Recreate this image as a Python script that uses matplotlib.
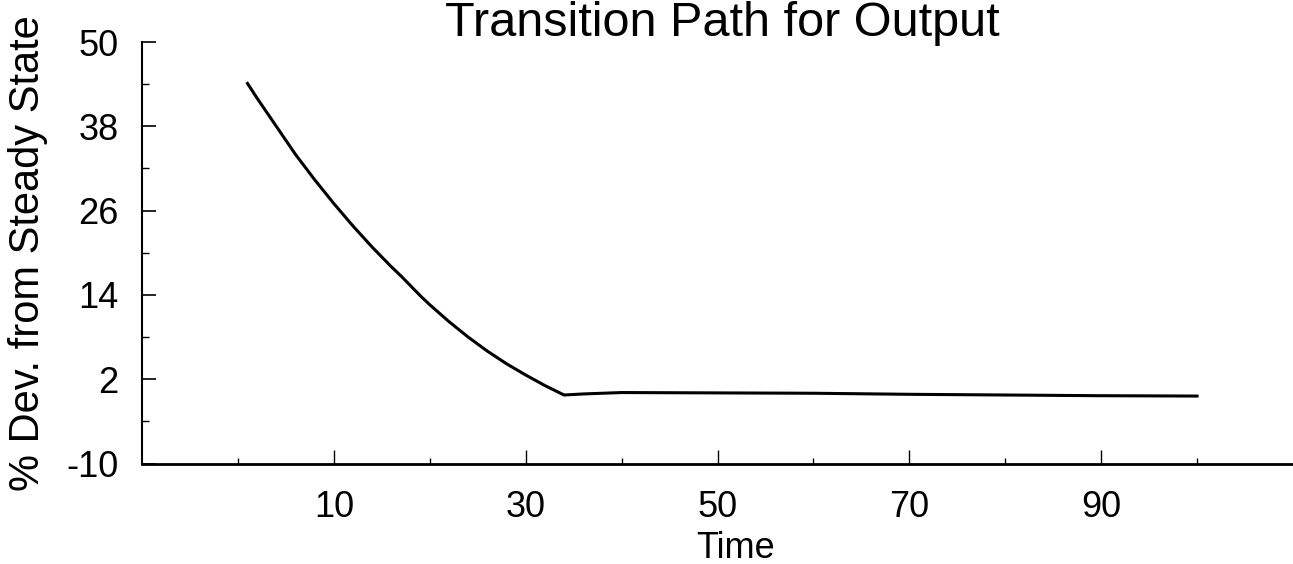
import matplotlib
matplotlib.use('Agg')
import matplotlib.pyplot as plt

plt.rcParams['font.family'] = ['Liberation Sans', 'DejaVu Sans']
plt.rcParams['axes.unicode_minus'] = False

# Transition path
time = [1, 2, 3, 4, 5, 6, 7, 8, 9, 10, 11, 12, 13, 14, 15, 16, 17, 18, 19, 20,
        22, 24, 26, 28, 30, 32, 34, 36, 40, 50, 60, 70, 80, 90, 100]
dev = [44.1, 42.0, 40.0, 38.0, 36.0, 34.0, 32.2, 30.4, 28.7, 27.0, 25.4, 23.8,
       22.3, 20.8, 19.4, 18.0, 16.7, 15.3, 13.9, 12.6, 10.2, 8.0, 6.0, 4.2, 2.6,
       1.1, -0.25, -0.1, 0.1, 0.05, 0.0, -0.15, -0.25, -0.35, -0.4]

x_major = [10, 30, 50, 70, 90]
x_minor = [0, 20, 40, 60, 80, 100]
y_major = [-10, 2, 14, 26, 38, 50]
y_minor = [-4, 8, 20, 32, 44]

fig = plt.figure(figsize=(12.93, 5.64), dpi=100)
ax = fig.add_axes([142/1293, 1 - 463.5/564, 1151/1293, 421.5/564])

ax.plot(time, dev, color='black', lw=2.2)

ax.set_xlim(-10, 110)
ax.set_ylim(-10, 50)
ax.set_xticks(x_major)
ax.set_xticks(x_minor, minor=True)
ax.set_yticks(y_major)
ax.set_yticks(y_minor, minor=True)

for s in ['top', 'right']:
    ax.spines[s].set_visible(False)
ax.spines['left'].set_linewidth(1.5)
ax.spines['bottom'].set_linewidth(2)

ax.tick_params(axis='both', which='both', direction='in', color='black')
ax.tick_params(axis='x', which='major', length=10, width=1, pad=19, labelsize=26)
ax.tick_params(axis='x', which='minor', length=4, width=1)
ax.tick_params(axis='y', which='major', length=10, width=1.2, pad=17, labelsize=26)
ax.tick_params(axis='y', which='minor', length=5, width=1)

ax.set_ylabel('% Dev. from Steady State', fontsize=30, va='center')
ax.yaxis.set_label_coords((28 - 142) / 1151, 0.5)
ax.set_xlabel('Time', fontsize=26, va='baseline')
ax.xaxis.set_label_coords((736 - 142) / 1151, (463.5 - 558) / 421.5)

ax.text((722 - 142) / 1151, (463.5 - 36) / 421.5, 'Transition Path for Output',
        transform=ax.transAxes, ha='center', va='baseline', fontsize=35)

fig.savefig('out.png', dpi=100)
